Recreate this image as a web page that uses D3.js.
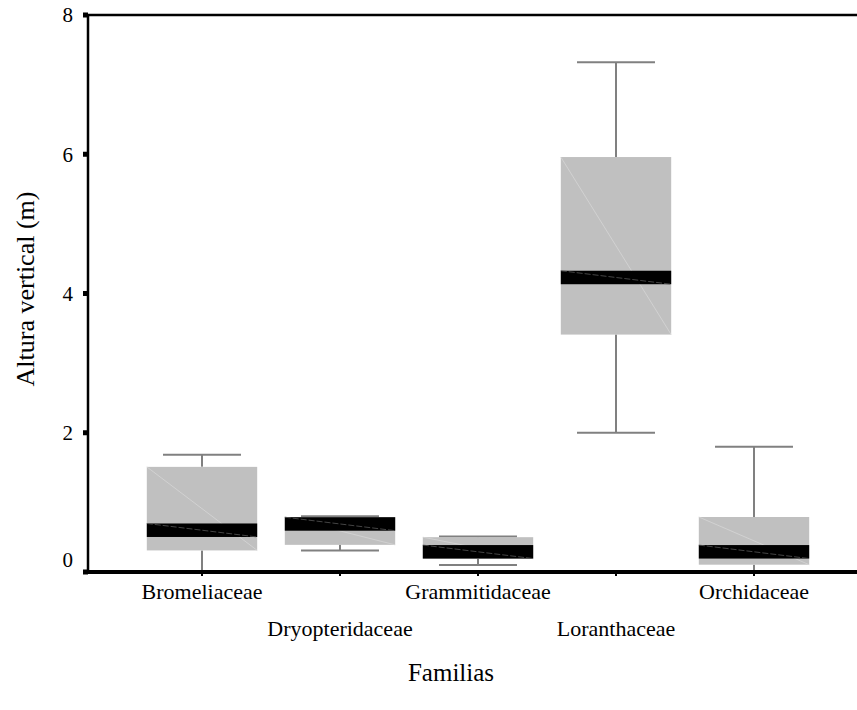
<!DOCTYPE html>
<html>
<head>
<meta charset="utf-8">
<script src="https://d3js.org/d3.v7.min.js"></script>
<style>
    body {margin: 0; background: #fff;}
    text {font-family: "Liberation Serif", "Times New Roman", serif; fill: #000;}
</style>
</head>
<body>
<script>

    // datos (altura vertical, m)
    var familias = ["Bromeliaceae", "Dryopteridaceae", "Grammitidaceae", "Loranthaceae", "Orchidaceae"];
    var minimo  = [0.00, 0.31, 0.10, 2.00, 0.00];
    var q1      = [0.31, 0.39, 0.19, 3.41, 0.105];
    var mediana = [0.60, 0.69, 0.29, 4.23, 0.29];
    var q3      = [1.51, 0.79, 0.50, 5.96, 0.79];
    var maximo  = [1.685, 0.80, 0.51, 7.32, 1.80];
    var yTicks  = [0, 2, 4, 6, 8];

    var width = 857, height = 710;

    var svg = d3.select("body").append("svg")
        .attr("width", width)
        .attr("height", height);

    var x = d3.scalePoint()
        .domain(familias)
        .range([202, 754]);

    var y = d3.scaleLinear()
        .domain([0, 8])
        .range([572, 15]);

    var boxW = x.step() * 0.8,
        capW = x.step() * 0.565,
        bandH = 13.5;

    var data = familias.map(function (f, i) {
        return {f: f, min: minimo[i], q1: q1[i], med: mediana[i], q3: q3[i], max: maximo[i], i: i};
    });

    var g = svg.append("g");

    var box = g.selectAll("g.box")
        .data(data)
        .enter().append("g")
        .attr("class", "box");

    // bigotes
    box.append("line")
        .attr("x1", function (d) { return x(d.f) }).attr("x2", function (d) { return x(d.f) })
        .attr("y1", function (d) { return y(d.q3) }).attr("y2", function (d) { return y(d.max) })
        .attr("stroke", "#808080").attr("stroke-width", 2);
    box.append("line")
        .attr("x1", function (d) { return x(d.f) }).attr("x2", function (d) { return x(d.f) })
        .attr("y1", function (d) { return y(d.q1) }).attr("y2", function (d) { return y(d.min) })
        .attr("stroke", "#808080").attr("stroke-width", 2);
    box.append("line")
        .attr("x1", function (d) { return x(d.f) - capW / 2 }).attr("x2", function (d) { return x(d.f) + capW / 2 })
        .attr("y1", function (d) { return y(d.max) }).attr("y2", function (d) { return y(d.max) })
        .attr("stroke", "#808080").attr("stroke-width", 2);
    box.append("line")
        .attr("x1", function (d) { return x(d.f) - capW / 2 }).attr("x2", function (d) { return x(d.f) + capW / 2 })
        .attr("y1", function (d) { return y(d.min) }).attr("y2", function (d) { return y(d.min) })
        .attr("stroke", "#808080").attr("stroke-width", 2);

    // caja
    box.append("rect")
        .attr("x", function (d) { return x(d.f) - boxW / 2 })
        .attr("y", function (d) { return y(d.q3) })
        .attr("width", boxW)
        .attr("height", function (d) { return y(d.q1) - y(d.q3) })
        .attr("fill", "#c0c0c0");

    // linea diagonal tenue dentro de la caja
    box.append("line")
        .attr("x1", function (d) { return x(d.f) - boxW / 2 }).attr("y1", function (d) { return y(d.q3) })
        .attr("x2", function (d) { return x(d.f) + boxW / 2 }).attr("y2", function (d) { return y(d.q1) })
        .attr("stroke", "#d6d6d6").attr("stroke-width", 0.8);

    // mediana
    box.append("rect")
        .attr("x", function (d) { return x(d.f) - boxW / 2 })
        .attr("y", function (d) { return y(d.med) - bandH / 2 })
        .attr("width", boxW)
        .attr("height", bandH)
        .attr("fill", "#000");
    box.append("line")
        .attr("x1", function (d) { return x(d.f) - boxW / 2 }).attr("y1", function (d) { return y(d.med) - bandH / 2 })
        .attr("x2", function (d) { return x(d.f) + boxW / 2 }).attr("y2", function (d) { return y(d.med) + bandH / 2 })
        .attr("stroke", "#555").attr("stroke-width", 0.8).attr("stroke-dasharray", "6,2");

    // ejes
    svg.append("line")
        .attr("x1", 83).attr("x2", width).attr("y1", y(8)).attr("y2", y(8))
        .attr("stroke", "#000").attr("stroke-width", 2.5);
    svg.append("line")
        .attr("x1", 88).attr("x2", 88).attr("y1", y(8)).attr("y2", y(0))
        .attr("stroke", "#000").attr("stroke-width", 2.5);
    svg.append("line")
        .attr("x1", 83).attr("x2", width).attr("y1", y(0)).attr("y2", y(0))
        .attr("stroke", "#000").attr("stroke-width", 4);

    svg.selectAll("rect.ytick")
        .data(yTicks)
        .enter().append("rect")
        .attr("class", "ytick")
        .attr("x", 83).attr("width", 5)
        .attr("y", function (d) { return y(d) - 2.5 }).attr("height", 5)
        .attr("fill", "#000");

    svg.selectAll("text.ylab")
        .data(yTicks)
        .enter().append("text")
        .attr("class", "ylab")
        .attr("x", 73)
        .attr("y", function (d) { return d == 0 ? y(d) - 12 : y(d) })
        .attr("dy", "0.35em")
        .attr("text-anchor", "end")
        .style("font-size", "21px")
        .text(function (d) { return d });

    svg.selectAll("rect.xtick")
        .data(familias)
        .enter().append("rect")
        .attr("class", "xtick")
        .attr("x", function (d) { return x(d) - 1 }).attr("width", 2)
        .attr("y", y(0)).attr("height", 4)
        .attr("fill", "#000");

    svg.selectAll("text.xlab")
        .data(familias)
        .enter().append("text")
        .attr("class", "xlab")
        .attr("x", function (d) { return x(d) })
        .attr("y", function (d, i) { return i % 2 == 0 ? 599 : 636 })
        .attr("text-anchor", "middle")
        .style("font-size", "22px")
        .text(function (d) { return d });

    svg.append("text")
        .attr("x", 451).attr("y", 681)
        .attr("text-anchor", "middle")
        .style("font-size", "25px")
        .text("Familias");

    svg.append("text")
        .attr("transform", "translate(34,289) rotate(-90)")
        .attr("text-anchor", "middle")
        .style("font-size", "26px")
        .text("Altura vertical (m)");

</script>
</body>
</html>
